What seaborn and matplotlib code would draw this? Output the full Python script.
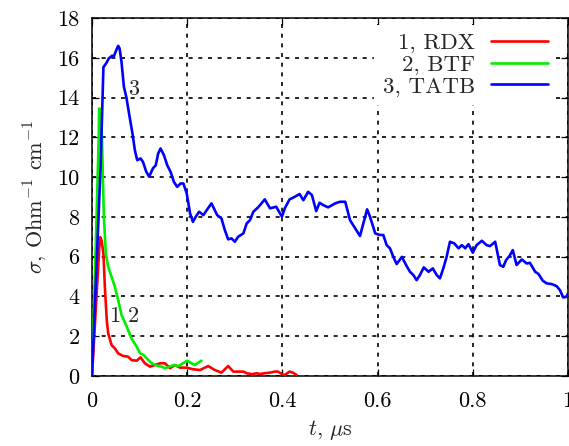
import numpy as np
import pandas as pd
import matplotlib
matplotlib.use("Agg")
import matplotlib.pyplot as plt
import seaborn as sns

# ---- data ----
t_rdx = [0.0, 0.015, 0.017, 0.020, 0.024, 0.027, 0.031, 0.034, 0.041, 0.048, 0.055, 0.065,
         0.076, 0.083, 0.094, 0.102, 0.111, 0.122, 0.132, 0.143, 0.153, 0.164, 0.174, 0.185,
         0.199, 0.212, 0.227, 0.244, 0.258, 0.272, 0.286, 0.297, 0.307, 0.318, 0.325, 0.336,
         0.346, 0.353, 0.363, 0.374, 0.384, 0.391, 0.399, 0.405, 0.415, 0.422, 0.430]
s_rdx = [0.0, 6.33, 6.98, 6.83, 6.17, 4.49, 2.81, 2.15, 1.56, 1.39, 1.14, 1.01,
         0.97, 0.80, 0.77, 0.94, 0.64, 0.47, 0.55, 0.64, 0.64, 0.39, 0.55, 0.42,
         0.42, 0.34, 0.30, 0.50, 0.30, 0.17, 0.50, 0.22, 0.22, 0.22, 0.14, 0.09,
         0.14, 0.10, 0.14, 0.17, 0.22, 0.22, 0.09, 0.05, 0.22, 0.17, 0.05]

t_btf = [0.0, 0.007, 0.014, 0.015, 0.018, 0.021, 0.023, 0.025, 0.029, 0.034, 0.041, 0.048,
         0.055, 0.062, 0.073, 0.083, 0.094, 0.101, 0.108, 0.115, 0.125, 0.136, 0.146, 0.154,
         0.163, 0.172, 0.182, 0.191, 0.200, 0.209, 0.216, 0.223, 0.230]
s_btf = [0.0, 5.83, 11.86, 13.45, 13.37, 11.86, 9.85, 8.01, 6.17, 5.49, 4.99, 4.49,
         3.82, 3.07, 2.48, 1.89, 1.47, 1.14, 1.06, 0.89, 0.64, 0.53, 0.47, 0.39,
         0.47, 0.55, 0.50, 0.64, 0.77, 0.64, 0.55, 0.67, 0.77]

t_tatb = [0.0, 0.010, 0.018, 0.024, 0.030, 0.035, 0.042, 0.046, 0.051, 0.055, 0.058, 0.062,
          0.067, 0.072, 0.079, 0.085, 0.090, 0.095, 0.102, 0.107, 0.114, 0.120, 0.128, 0.134,
          0.139, 0.144, 0.151, 0.158, 0.165, 0.172, 0.179, 0.186, 0.192, 0.199, 0.206, 0.212,
          0.218, 0.225, 0.234, 0.241, 0.251, 0.258, 0.263, 0.272, 0.279, 0.286, 0.293, 0.300,
          0.307, 0.318, 0.325, 0.332, 0.339, 0.349, 0.363, 0.374, 0.387, 0.399, 0.405, 0.415,
          0.426, 0.436, 0.444, 0.454, 0.462, 0.471, 0.478, 0.486, 0.496, 0.511, 0.521, 0.532,
          0.542, 0.553, 0.563, 0.570, 0.578, 0.584, 0.595, 0.605, 0.612, 0.619, 0.626, 0.633,
          0.640, 0.651, 0.661, 0.668, 0.675, 0.682, 0.689, 0.697, 0.707, 0.716, 0.724, 0.731,
          0.738, 0.745, 0.752, 0.761, 0.770, 0.777, 0.784, 0.791, 0.800, 0.808, 0.819, 0.829,
          0.836, 0.847, 0.857, 0.864, 0.870, 0.877, 0.884, 0.892, 0.903, 0.913, 0.920, 0.931,
          0.938, 0.947, 0.955, 0.966, 0.976, 0.983, 0.990, 0.997, 1.000]
s_tatb = [0.0, 5.83, 10.50, 15.53, 15.73, 15.96, 16.10, 16.08, 16.38, 16.60, 16.47, 15.79,
          14.54, 14.04, 13.03, 12.20, 11.36, 10.85, 10.94, 10.77, 10.27, 10.02, 10.44, 10.60,
          11.19, 11.44, 11.11, 10.60, 10.27, 9.76, 9.51, 9.68, 9.68, 9.18, 8.18, 7.75,
          8.01, 8.26, 8.09, 8.34, 8.68, 8.34, 8.09, 7.92, 7.34, 6.87, 6.92, 6.75,
          7.00, 7.17, 7.67, 7.84, 8.26, 8.48, 8.88, 8.43, 8.51, 8.01, 8.43, 8.88,
          9.01, 9.15, 8.84, 9.26, 9.10, 8.29, 8.71, 8.59, 8.48, 8.68, 8.76, 8.76,
          7.84, 7.42, 7.04, 7.67, 8.38, 8.01, 7.17, 7.09, 7.09, 6.58, 6.42, 5.99,
          5.63, 5.99, 5.53, 5.24, 5.08, 4.82, 5.08, 5.46, 5.24, 5.41, 5.08, 4.91,
          5.41, 5.99, 6.75, 6.67, 6.42, 6.58, 6.42, 6.63, 6.20, 6.58, 6.80, 6.58,
          6.53, 6.75, 5.58, 5.49, 5.83, 6.03, 6.33, 5.58, 5.86, 5.66, 5.69, 5.24,
          5.13, 4.79, 4.66, 4.62, 4.52, 4.32, 3.95, 3.98, 4.16]

series_labels = ["1, RDX", "2, BTF", "3, TATB"]
series_colors = ["#ff0000", "#00ee00", "#0000ff"]
x_ticks = [0, 0.2, 0.4, 0.6, 0.8, 1]
x_ticklabels = ["0", "0.2", "0.4", "0.6", "0.8", "1"]
y_ticks = list(range(0, 19, 2))

df = pd.concat([
    pd.DataFrame({"t": t_rdx, "sigma": s_rdx, "series": series_labels[0]}),
    pd.DataFrame({"t": t_btf, "sigma": s_btf, "series": series_labels[1]}),
    pd.DataFrame({"t": t_tatb, "sigma": s_tatb, "series": series_labels[2]}),
], ignore_index=True)

sns.set_style("ticks")
plt.rcParams["font.family"] = ["cmr10", "DejaVu Serif"]
plt.rcParams["mathtext.fontset"] = "cm"
plt.rcParams["axes.unicode_minus"] = False

FS = 16
fig = plt.figure(figsize=(5.69, 4.46), dpi=100)
ax = fig.add_axes([92 / 569, 70 / 446, 476 / 569, 358 / 446])

sns.lineplot(data=df, x="t", y="sigma", hue="series", hue_order=series_labels,
             palette=series_colors, estimator=None, sort=False, linewidth=1.9,
             ax=ax, legend=False, zorder=3)
for ln in ax.get_lines():
    ln.set_solid_joinstyle("round")
    ln.set_solid_capstyle("round")

ax.set_xlim(0, 1)
ax.set_ylim(0, 18)
ax.set_xticks(x_ticks)
ax.set_xticklabels(x_ticklabels)
ax.set_yticks(y_ticks)
ax.grid(True, color="black", linestyle=(0, (2.4, 3.4)), linewidth=1.2)
ax.set_axisbelow(True)
for sp in ax.spines.values():
    sp.set_visible(True)
    sp.set_linewidth(1.1)
    sp.set_color("black")
ax.tick_params(direction="in", top=True, right=True, length=5, width=0.9,
               labelsize=FS, colors="black")
ax.tick_params(axis="x", pad=11)
ax.tick_params(axis="y", pad=9)

ax.set_xlabel(r"$t$, $\mu$s", fontsize=FS, labelpad=5)
ax.set_ylabel(r"$\sigma$, Ohm$^{-1}$ cm$^{-1}$", fontsize=FS, labelpad=6)

ax.text(0.088, 14.4, "3", fontsize=FS, ha="center", va="center")
ax.text(0.048, 3.0, "1", fontsize=FS, ha="center", va="center")
ax.text(0.087, 3.0, "2", fontsize=FS, ha="center", va="center")

handles = [plt.Line2D([], [], color=c, lw=1.9) for c in series_colors]
leg = ax.legend(handles, series_labels, loc="upper right", markerfirst=False,
                fontsize=16.5, handlelength=2.5, handletextpad=0.7, labelspacing=0.05,
                frameon=True, fancybox=False, framealpha=1.0, borderpad=0.35,
                borderaxespad=0.15, bbox_to_anchor=(0.982, 0.99))
leg.get_frame().set_edgecolor("none")
leg.get_frame().set_facecolor("white")
for txt in leg.get_texts():
    txt.set_ha("right")
leg._legend_box.align = "right"
leg.set_zorder(5)

fig.savefig("out.png", dpi=100)
